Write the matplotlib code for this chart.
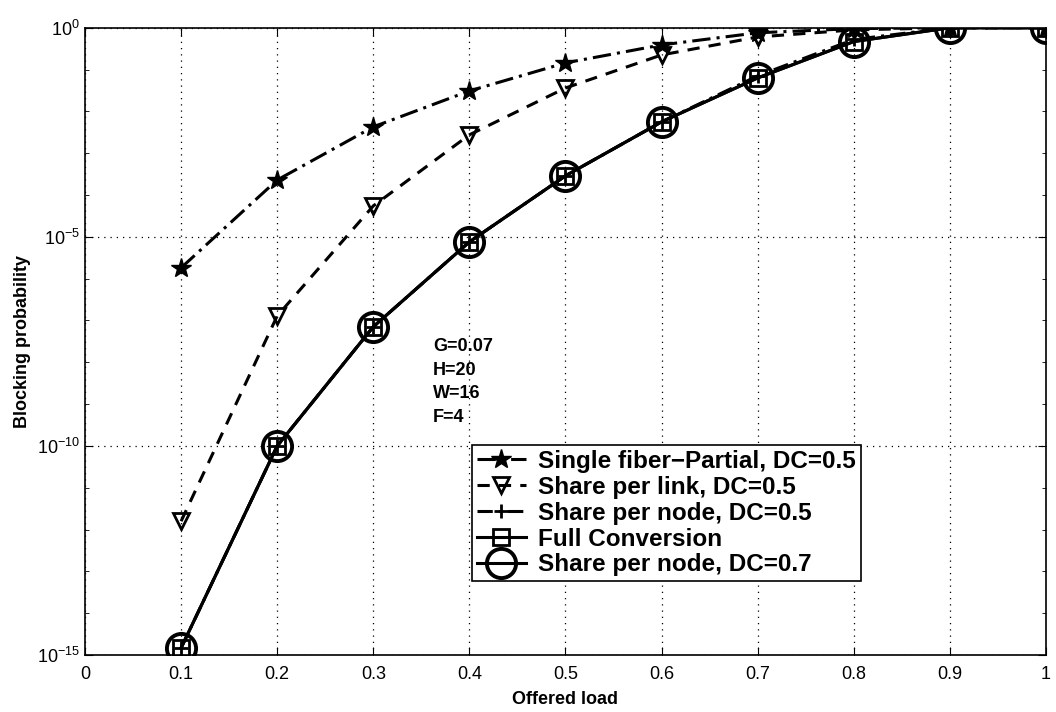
import numpy as np
import matplotlib
matplotlib.use("Agg")
import matplotlib.pyplot as plt
from matplotlib.ticker import LogLocator, NullFormatter

plt.rcParams['font.family'] = ['Liberation Sans', 'DejaVu Sans']
plt.rcParams['mathtext.fontset'] = 'custom'
plt.rcParams['mathtext.rm'] = 'Liberation Sans'

load = [0.1, 0.2, 0.3, 0.4, 0.5, 0.6, 0.7, 0.8, 0.9, 1.0]

# log10 of blocking probability
single_fiber = [-5.74, -3.64, -2.37, -1.51, -0.84, -0.41, -0.12, -0.02, 0.0, 0.0]
share_link = [-11.8, -6.89, -4.26, -2.56, -1.44, -0.65, -0.22, -0.05, 0.0, 0.0]
share_node_05 = [-14.83, -10.0, -7.15, -5.12, -3.54, -2.25, -1.15, -0.28, 0.0, 0.0]
full_conv = [-14.83, -10.0, -7.15, -5.12, -3.54, -2.25, -1.2, -0.33, 0.0, 0.0]
share_node_07 = [-14.83, -10.0, -7.15, -5.12, -3.54, -2.25, -1.2, -0.33, 0.0, 0.0]

params = "G=0.07\nH=20\nW=16\nF=4"

fig = plt.figure(figsize=(10.56, 7.12), dpi=100)
ax = fig.add_axes([0.0805, 0.080, 0.910, 0.881])

def p(v):
    return 10.0 ** np.array(v)

lw = 2.2
ax.plot(load, p(single_fiber), color='k', lw=lw, ls=(0, (6, 2, 1, 2)),
        marker='*', ms=15, label='Single fiber\u2212Partial, DC=0.5')
ax.plot(load, p(share_link), color='k', lw=lw, ls=(0, (4, 3)),
        marker='v', ms=11, mfc='none', mew=2, label='Share per link, DC=0.5')
ax.plot(load, p(share_node_05), color='k', lw=lw, ls=(0, (5, 2, 1, 2)),
        marker='+', ms=10, mew=2, label='Share per node, DC=0.5')
ax.plot(load, p(full_conv), color='k', lw=lw, ls='-',
        marker='s', ms=11, mfc='none', mew=2, label='Full Conversion')
ax.plot(load, p(share_node_07), color='k', lw=lw, ls='-',
        marker='o', ms=21, mfc='none', mew=2.8, label='Share per node, DC=0.7')

ax.set_yscale('log')
ax.set_xlim(0, 1)
ax.set_ylim(1e-15, 1)
ax.set_xticks(np.arange(0, 1.01, 0.1))
ax.set_xticklabels(['0', '0.1', '0.2', '0.3', '0.4', '0.5', '0.6', '0.7', '0.8', '0.9', '1'])
ax.set_yticks([1e-15, 1e-10, 1e-5, 1])
ax.yaxis.set_minor_locator(LogLocator(base=10, subs=(1.0,), numticks=30))
ax.yaxis.set_minor_formatter(NullFormatter())
ax.tick_params(which='both', direction='in', top=True, right=True, labelsize=13)
ax.tick_params(axis='x', which='major', pad=8)
ax.tick_params(which='major', length=6)
ax.tick_params(which='minor', length=3)
ax.grid(True, which='major', ls=(0, (1, 4)), color='k', lw=0.9)

ax.set_xlabel('Offered load', fontsize=13, fontweight='bold', labelpad=6)
ax.set_ylabel('Blocking probability', fontsize=13, fontweight='bold', labelpad=4)

ax.text(0.362, 0.505, params, transform=ax.transAxes, fontsize=13,
        fontweight='bold', va='top', ha='left', linespacing=1.5)

leg = ax.legend(loc='upper left', bbox_to_anchor=(0.403, 0.335),
                prop={'weight': 'bold', 'size': 17.5}, handlelength=2.0,
                handletextpad=0.5, borderpad=0.2, labelspacing=0.12,
                borderaxespad=0, fancybox=False, edgecolor='k', framealpha=1)
leg.get_frame().set_linewidth(1.2)

for s in ax.spines.values():
    s.set_linewidth(1.2)

fig.savefig('out.png', dpi=100)
